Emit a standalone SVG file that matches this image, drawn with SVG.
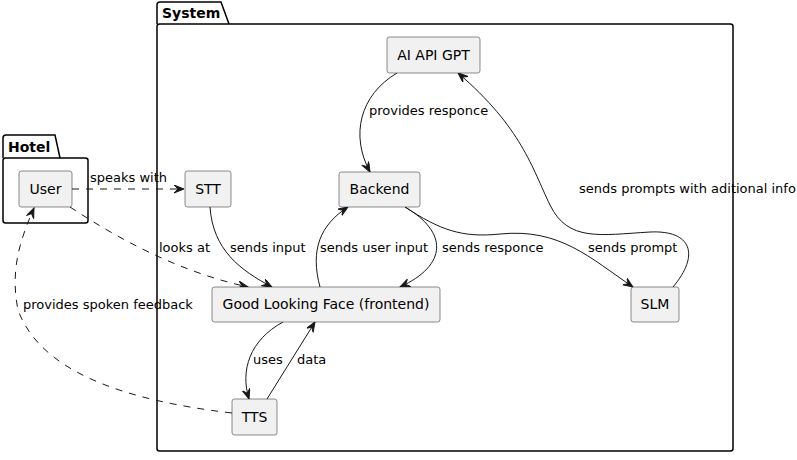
<svg xmlns="http://www.w3.org/2000/svg" width="797" height="460" viewBox="0 0 797 460">
<style>
.pkg{fill:none;stroke:#000;stroke-width:1.5}
.ptitle{font-family:"DejaVu Sans",sans-serif;font-size:14px;font-weight:bold;fill:#000}
.node rect{fill:#F1F1F1;stroke:#181818;stroke-width:0.5}
.node text{font-family:"DejaVu Sans",sans-serif;font-size:14px;fill:#000;text-anchor:middle}
.e{fill:none;stroke:#181818;stroke-width:1}
.d{stroke-dasharray:7,7}
.lbl{font-family:"DejaVu Sans",sans-serif;font-size:13px;fill:#000}
</style>
<defs>
<marker id="ah" markerUnits="userSpaceOnUse" markerWidth="12" markerHeight="10" refX="10" refY="4" orient="auto" viewBox="0 0 12 10">
<path d="M0,0 L10,4 L0,8 L4,4 Z" fill="#181818" stroke="#181818" stroke-width="1"/>
</marker>
</defs>
<g id="pkg-hotel">
<path class="pkg" d="M3,158 L3,138 Q3,135 6,135 L55,135 L60,158"/>
<rect class="pkg" x="3" y="158" width="85" height="65" rx="2.5"/>
<text class="ptitle" x="8" y="152">Hotel</text>
</g>
<g id="pkg-system">
<path class="pkg" d="M157,24 L157,5 Q157,2 160,2 L221,2 L229,24"/>
<rect class="pkg" x="157" y="24" width="576" height="427" rx="2.5"/>
<text class="ptitle" x="162" y="18">System</text>
</g>
<g id="connectors">
<path class="e d" d="M72,189 L184,189" marker-end="url(#ah)"/>
<path class="e d" d="M70,207 C120,240 180,272 248,287" marker-end="url(#ah)"/>
<path class="e" d="M210,207 C213,250 240,270 272,287" marker-end="url(#ah)"/>
<path class="e" d="M320,287 C310,250 320,225 348,207" marker-end="url(#ah)"/>
<path class="e" d="M405,207 C448,232 448,265 400,287" marker-end="url(#ah)"/>
<path class="e" d="M405,207 C440,230 462,238 500,234 C560,228 590,258 633,287" marker-end="url(#ah)"/>
<path class="e" d="M673,287 C700,255 692,230 650,232 C600,235 568,242 550,205 C532,168 522,128 458,73" marker-end="url(#ah)"/>
<path class="e" d="M397,73 C360,95 350,135 370,172" marker-end="url(#ah)"/>
<path class="e" d="M283,322 C250,340 240,370 249,399" marker-end="url(#ah)"/>
<path class="e" d="M267,399 L315,322" marker-end="url(#ah)"/>
<path class="e d" d="M232,413 C120,400 40,370 18,310 C10,270 20,240 34,208" marker-end="url(#ah)"/>
<text class="lbl" x="90" y="182">speaks with</text>
<text class="lbl" x="159" y="252">looks at</text>
<text class="lbl" x="230" y="252">sends input</text>
<text class="lbl" x="320" y="252">sends user input</text>
<text class="lbl" x="442" y="252">sends responce</text>
<text class="lbl" x="588" y="252">sends prompt</text>
<text class="lbl" x="579" y="193">sends prompts with aditional info</text>
<text class="lbl" x="369" y="115">provides responce</text>
<text class="lbl" x="253" y="364">uses</text>
<text class="lbl" x="297" y="364">data</text>
<text class="lbl" x="23" y="309">provides spoken feedback</text>
</g>
<g id="user" class="node"><rect x="19" y="171" width="53" height="36" rx="2.5"/><text x="45.5" y="194">User</text></g>
<g id="stt" class="node"><rect x="185" y="171" width="46" height="36" rx="2.5"/><text x="208" y="194">STT</text></g>
<g id="ai" class="node"><rect x="387" y="37" width="93" height="36" rx="2.5"/><text x="433.5" y="60">AI API GPT</text></g>
<g id="backend" class="node"><rect x="339" y="172" width="81" height="35" rx="2.5"/><text x="379.5" y="194">Backend</text></g>
<g id="face" class="node"><rect x="212" y="287" width="228" height="35" rx="2.5"/><text x="326" y="309">Good Looking Face (frontend)</text></g>
<g id="slm" class="node"><rect x="631" y="287" width="48" height="35" rx="2.5"/><text x="655" y="309">SLM</text></g>
<g id="tts" class="node"><rect x="232" y="399" width="45" height="36" rx="2.5"/><text x="254.5" y="422">TTS</text></g>
</svg>
